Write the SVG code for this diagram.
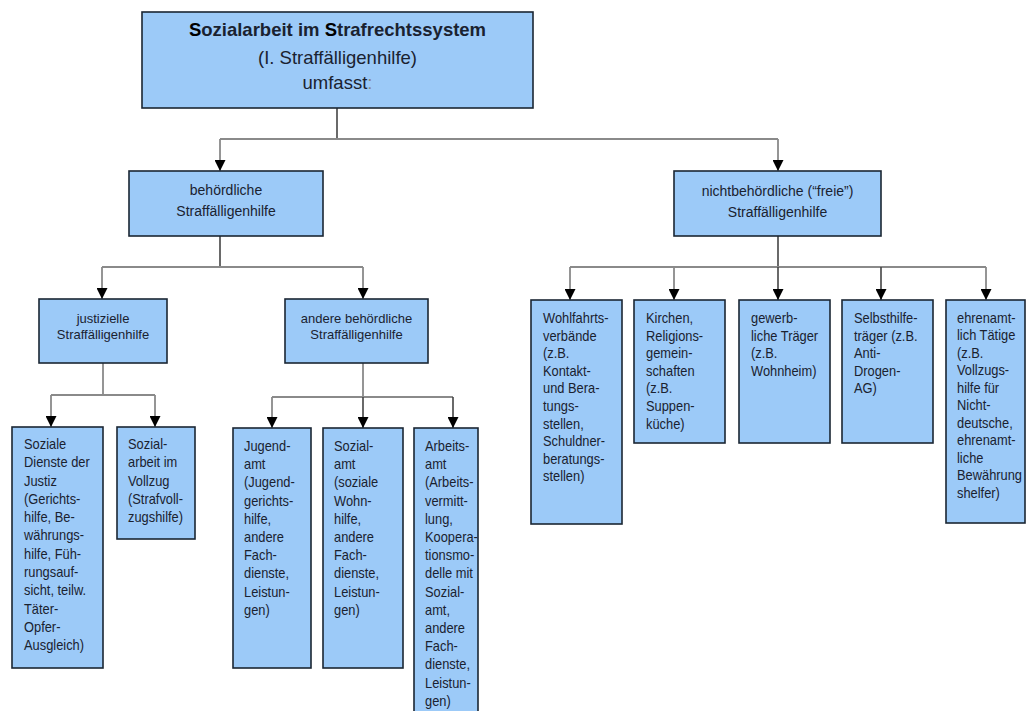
<svg xmlns="http://www.w3.org/2000/svg" width="1028" height="711" viewBox="0 0 1028 711">
<defs>
<style>
.box{fill:#9ccaf8;stroke:#1b2633;stroke-width:1.6}
.t{font-family:"Liberation Sans",Arial,sans-serif;fill:#1a2230}
.c{text-anchor:middle}
.l13{font-size:13px}
.lf{font-size:14.6px}
.trunk{fill:none;stroke:#444;stroke-width:1.6}
.drop{fill:none;stroke:#8a8a8a;stroke-width:1.8}
</style>
<marker id="arr" viewBox="0 0 12 12" refX="12" refY="6" markerWidth="13" markerHeight="11" markerUnits="userSpaceOnUse" orient="auto">
<path d="M0,0 L12,6 L0,12 z" fill="#000"/>
</marker>
</defs>
<rect width="1028" height="711" fill="#fff"/>

<g id="connectors">
<path class="trunk" d="M337,108 V139"/>
<path class="drop" d="M220,139 H778"/>
<path class="drop" d="M220,139 V171" marker-end="url(#arr)"/>
<path class="drop" d="M778,139 V171" marker-end="url(#arr)"/>

<path class="trunk" d="M220,236 V267"/>
<path class="drop" d="M102,267 H363"/>
<path class="drop" d="M102,267 V299" marker-end="url(#arr)"/>
<path class="drop" d="M363,267 V299" marker-end="url(#arr)"/>

<path class="trunk" d="M778,236 V267"/>
<path class="drop" d="M570,267 H986"/>
<path class="drop" d="M570,267 V300" marker-end="url(#arr)"/>
<path class="drop" d="M674,267 V300" marker-end="url(#arr)"/>
<path class="trunk" d="M778,267 V300" marker-end="url(#arr)"/>
<path class="trunk" d="M881,267 V300" marker-end="url(#arr)"/>
<path class="drop" d="M986,267 V300" marker-end="url(#arr)"/>

<path class="drop" d="M103,363 V395"/>
<path class="drop" d="M51,395 H155"/>
<path class="drop" d="M51,395 V427" marker-end="url(#arr)"/>
<path class="drop" d="M155,395 V427" marker-end="url(#arr)"/>

<path class="drop" d="M363,363 V397"/>
<path class="drop" d="M272,397 H453"/>
<path class="drop" d="M272,397 V428" marker-end="url(#arr)"/>
<path class="trunk" d="M363,397 V428" marker-end="url(#arr)"/>
<path class="trunk" d="M453,397 V428" marker-end="url(#arr)"/>
</g>

<g id="root">
<rect class="box" x="142" y="12" width="391" height="96"/>
<text class="t c" x="337.5" y="36" font-size="18.5" font-weight="bold"><tspan fill="#000">S</tspan>ozialarbeit im <tspan fill="#000">S</tspan>trafrechtssystem</text>
<text class="t c" x="337.5" y="64" font-size="18.5">(I. Straffälligenhilfe)</text>
<text class="t c" x="337.5" y="89" font-size="18.5">umfasst<tspan fill="#888">:</tspan></text>
</g>

<g id="behoerdlich">
<rect class="box" x="129" y="171" width="194" height="65"/>
<text class="t c" x="226" y="195" font-size="14">behördliche</text>
<text class="t c" x="226" y="216" font-size="14">Straffälligenhilfe</text>
</g>

<g id="nichtbehoerdlich">
<rect class="box" x="674" y="171" width="207" height="65"/>
<text class="t c" x="777.5" y="196" font-size="14">nichtbehördliche (“freie”)</text>
<text class="t c" x="777.5" y="217" font-size="14">Straffälligenhilfe</text>
</g>

<g id="justiziell">
<rect class="box" x="39" y="299" width="128" height="64"/>
<text class="t c l13" x="103" y="323">justizielle</text>
<text class="t c l13" x="103" y="339">Straffälligenhilfe</text>
</g>

<g id="andere">
<rect class="box" x="285" y="299" width="143" height="64"/>
<text class="t c l13" x="356.5" y="323">andere behördliche</text>
<text class="t c l13" x="356.5" y="339">Straffälligenhilfe</text>
</g>

<g id="soziale-dienste">
<rect class="box" x="12" y="427" width="91" height="241"/>
<text class="t lf" transform="translate(24,449) scale(0.88,1)"><tspan x="0">Soziale</tspan><tspan x="0" dy="18.3">Dienste der</tspan><tspan x="0" dy="18.3">Justiz</tspan><tspan x="0" dy="18.3">(Gerichts-</tspan><tspan x="0" dy="18.3">hilfe, Be-</tspan><tspan x="0" dy="18.3">währungs-</tspan><tspan x="0" dy="18.3">hilfe, Füh-</tspan><tspan x="0" dy="18.3">rungsauf-</tspan><tspan x="0" dy="18.3">sicht, teilw.</tspan><tspan x="0" dy="18.3">Täter-</tspan><tspan x="0" dy="18.3">Opfer-</tspan><tspan x="0" dy="18.3">Ausgleich)</tspan></text>
</g>

<g id="vollzug">
<rect class="box" x="117" y="427" width="78" height="112"/>
<text class="t lf" transform="translate(128,449) scale(0.88,1)"><tspan x="0">Sozial-</tspan><tspan x="0" dy="18.3">arbeit im</tspan><tspan x="0" dy="18.3">Vollzug</tspan><tspan x="0" dy="18.3">(Strafvoll-</tspan><tspan x="0" dy="18.3">zugshilfe)</tspan></text>
</g>

<g id="jugendamt">
<rect class="box" x="233" y="428" width="78" height="240"/>
<text class="t lf" transform="translate(244,451) scale(0.88,1)"><tspan x="0">Jugend-</tspan><tspan x="0" dy="18.2">amt</tspan><tspan x="0" dy="18.2">(Jugend-</tspan><tspan x="0" dy="18.2">gerichts-</tspan><tspan x="0" dy="18.2">hilfe,</tspan><tspan x="0" dy="18.2">andere</tspan><tspan x="0" dy="18.2">Fach-</tspan><tspan x="0" dy="18.2">dienste,</tspan><tspan x="0" dy="18.2">Leistun-</tspan><tspan x="0" dy="18.2">gen)</tspan></text>
</g>

<g id="sozialamt">
<rect class="box" x="323" y="428" width="80" height="240"/>
<text class="t lf" transform="translate(334,451) scale(0.88,1)"><tspan x="0">Sozial-</tspan><tspan x="0" dy="18.2">amt</tspan><tspan x="0" dy="18.2">(soziale</tspan><tspan x="0" dy="18.2">Wohn-</tspan><tspan x="0" dy="18.2">hilfe,</tspan><tspan x="0" dy="18.2">andere</tspan><tspan x="0" dy="18.2">Fach-</tspan><tspan x="0" dy="18.2">dienste,</tspan><tspan x="0" dy="18.2">Leistun-</tspan><tspan x="0" dy="18.2">gen)</tspan></text>
</g>

<g id="arbeitsamt">
<rect class="box" x="414" y="428" width="64" height="300"/>
<text class="t lf" transform="translate(425,451) scale(0.88,1)"><tspan x="0">Arbeits-</tspan><tspan x="0" dy="18.2">amt</tspan><tspan x="0" dy="18.2">(Arbeits-</tspan><tspan x="0" dy="18.2">vermitt-</tspan><tspan x="0" dy="18.2">lung,</tspan><tspan x="0" dy="18.2">Koopera-</tspan><tspan x="0" dy="18.2">tionsmo-</tspan><tspan x="0" dy="18.2">delle mit</tspan><tspan x="0" dy="18.2">Sozial-</tspan><tspan x="0" dy="18.2">amt,</tspan><tspan x="0" dy="18.2">andere</tspan><tspan x="0" dy="18.2">Fach-</tspan><tspan x="0" dy="18.2">dienste,</tspan><tspan x="0" dy="18.2">Leistun-</tspan><tspan x="0" dy="18.2">gen)</tspan></text>
</g>

<g id="wohlfahrt">
<rect class="box" x="531" y="300" width="91" height="224"/>
<text class="t lf" transform="translate(543,323) scale(0.88,1)"><tspan x="0">Wohlfahrts-</tspan><tspan x="0" dy="17.6">verbände</tspan><tspan x="0" dy="17.6">(z.B.</tspan><tspan x="0" dy="17.6">Kontakt-</tspan><tspan x="0" dy="17.6">und Bera-</tspan><tspan x="0" dy="17.6">tungs-</tspan><tspan x="0" dy="17.6">stellen,</tspan><tspan x="0" dy="17.6">Schuldner-</tspan><tspan x="0" dy="17.6">beratungs-</tspan><tspan x="0" dy="17.6">stellen)</tspan></text>
</g>

<g id="kirchen">
<rect class="box" x="634" y="300" width="91" height="143"/>
<text class="t lf" transform="translate(646,323) scale(0.88,1)"><tspan x="0">Kirchen,</tspan><tspan x="0" dy="17.6">Religions-</tspan><tspan x="0" dy="17.6">gemein-</tspan><tspan x="0" dy="17.6">schaften</tspan><tspan x="0" dy="17.6">(z.B.</tspan><tspan x="0" dy="17.6">Suppen-</tspan><tspan x="0" dy="17.6">küche)</tspan></text>
</g>

<g id="gewerblich">
<rect class="box" x="739" y="300" width="91" height="143"/>
<text class="t lf" transform="translate(751,323) scale(0.88,1)"><tspan x="0">gewerb-</tspan><tspan x="0" dy="17.6">liche Träger</tspan><tspan x="0" dy="17.6">(z.B.</tspan><tspan x="0" dy="17.6">Wohnheim)</tspan></text>
</g>

<g id="selbsthilfe">
<rect class="box" x="842" y="300" width="91" height="143"/>
<text class="t lf" transform="translate(854,323) scale(0.88,1)"><tspan x="0">Selbsthilfe-</tspan><tspan x="0" dy="17.6">träger (z.B.</tspan><tspan x="0" dy="17.6">Anti-</tspan><tspan x="0" dy="17.6">Drogen-</tspan><tspan x="0" dy="17.6">AG)</tspan></text>
</g>

<g id="ehrenamt">
<rect class="box" x="946" y="300" width="79" height="223"/>
<text class="t lf" transform="translate(957,323) scale(0.88,1)"><tspan x="0">ehrenamt-</tspan><tspan x="0" dy="17.5">lich Tätige</tspan><tspan x="0" dy="17.5">(z.B.</tspan><tspan x="0" dy="17.5">Vollzugs-</tspan><tspan x="0" dy="17.5">hilfe für</tspan><tspan x="0" dy="17.5">Nicht-</tspan><tspan x="0" dy="17.5">deutsche,</tspan><tspan x="0" dy="17.5">ehrenamt-</tspan><tspan x="0" dy="17.5">liche</tspan><tspan x="0" dy="17.5">Bewährung</tspan><tspan x="0" dy="17.5">shelfer)</tspan></text>
</g>
</svg>
